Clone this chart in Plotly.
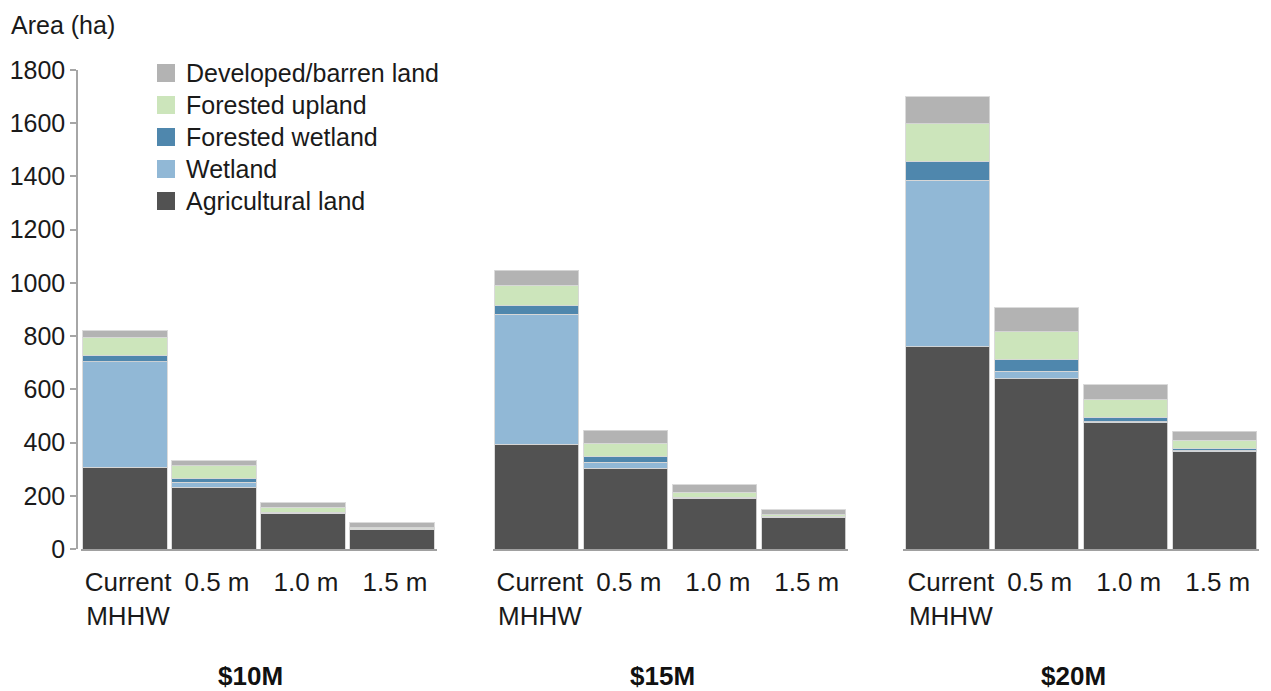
import plotly.graph_objects as go

# ---- data ----
scenarios = ["Current MHHW", "0.5 m", "1.0 m", "1.5 m"]
scenario_labels = ["Current<br>MHHW", "0.5 m", "1.0 m", "1.5 m"]
budgets = ["$10M", "$15M", "$20M"]

agricultural = [[308, 232, 133, 75], [393, 303, 189, 119], [760, 640, 475, 366]]
wetland = [[396, 19, 2, 1], [489, 23, 2, 2], [626, 28, 3, 3]]
forested_wetland = [[25, 13, 3, 1], [32, 20, 4, 3], [71, 43, 17, 7]]
forested_upland = [[67, 48, 19, 3], [77, 51, 18, 4], [141, 106, 65, 32]]
developed = [[24, 19, 17, 19], [57, 49, 29, 19], [102, 90, 57, 34]]

y_ticks = [0, 200, 400, 600, 800, 1000, 1200, 1400, 1600, 1800]

series = [
    ("Agricultural land", agricultural, "#525252"),
    ("Wetland", wetland, "#91b8d6"),
    ("Forested wetland", forested_wetland, "#4f87ad"),
    ("Forested upland", forested_upland, "#cce5bb"),
    ("Developed/barren land", developed, "#b3b3b3"),
]

# page body has an 8px margin: figure pixel = screen pixel - OFF
OFF = 8
W, H = 1271 - OFF, 691 - OFF
FONT = "Liberation Sans, Arial, sans-serif"
FS = 25
TXT = "#1a1a1a"


def px(v):
    return (v - OFF) / W


def py(v):
    return 1 - (v - OFF) / H


domains_scr = [(80.5, 436.5), (492.5, 848.2), (903.3, 1259.2)]
y0_scr, y1_scr = 549, 70

fig = go.Figure()
for gi, b in enumerate(budgets):
    xa = "x" if gi == 0 else f"x{gi + 1}"
    for name, vals, color in series:
        fig.add_trace(go.Bar(
            x=scenarios, y=vals[gi], name=name, xaxis=xa, yaxis="y",
            marker=dict(color=color, line=dict(color="rgba(215,215,215,0.9)", width=1)),
            showlegend=False,
        ))

layout = dict(
    width=W, height=H, barmode="stack", bargap=0.056,
    plot_bgcolor="white", paper_bgcolor="white",
    margin=dict(l=0, r=0, t=0, b=0, autoexpand=False),
    font=dict(family=FONT, size=FS, color=TXT),
    showlegend=False,
    yaxis=dict(
        range=[0, 1800], domain=[py(y0_scr), py(y1_scr)],
        anchor="free", position=px(77), automargin=False,
        tickvals=y_ticks, ticks="outside", ticklen=6, tickwidth=1.5, tickcolor="#a6a6a6",
        showline=True, linecolor="#a6a6a6", linewidth=1.5,
        showgrid=False, zeroline=False,
        tickfont=dict(size=FS, family=FONT, color=TXT),
    ),
)

annotations = [dict(
    text="Area (ha)", x=px(9), y=py(25), xref="paper", yref="paper",
    xanchor="left", yanchor="middle", showarrow=False,
    font=dict(size=FS, family=FONT, color=TXT),
)]
shapes = []

# legend (top to bottom)
legend_rows = [73, 105, 137, 169, 201]
for (name, _, color), yc in zip(reversed(series), legend_rows):
    shapes.append(dict(
        type="rect", xref="paper", yref="paper",
        x0=px(157), x1=px(175), y0=py(yc + 9), y1=py(yc - 9),
        fillcolor=color, line=dict(width=0),
    ))
    annotations.append(dict(
        text=name, x=px(184), y=py(yc), xref="paper", yref="paper",
        xanchor="left", yanchor="middle", showarrow=False,
        font=dict(size=FS, family=FONT, color=TXT),
    ))

for gi, (d0, d1) in enumerate(domains_scr):
    key = "xaxis" if gi == 0 else f"xaxis{gi + 1}"
    layout[key] = dict(
        domain=[px(d0), px(d1)], anchor="y", range=[-0.5, 3.5], automargin=False,
        type="category", categoryorder="array", categoryarray=scenarios,
        tickvals=scenarios, ticktext=scenario_labels, tickangle=0,
        showline=True, linecolor="#a0a0a0", linewidth=2,
        ticks="", ticklabelstandoff=9, ticklabelshift=3,
        showgrid=False, zeroline=False,
        tickfont=dict(size=26, family=FONT, color=TXT),
    )
    annotations.append(dict(
        text=f"<b>{budgets[gi]}</b>", x=px((d0 + d1) / 2 - 8), y=py(676),
        xref="paper", yref="paper", xanchor="center", yanchor="middle",
        showarrow=False, font=dict(size=26, family=FONT, color="#111111"),
    ))

layout["annotations"] = annotations
layout["shapes"] = shapes
fig.update_layout(**layout)

fig.write_html("out.html")
